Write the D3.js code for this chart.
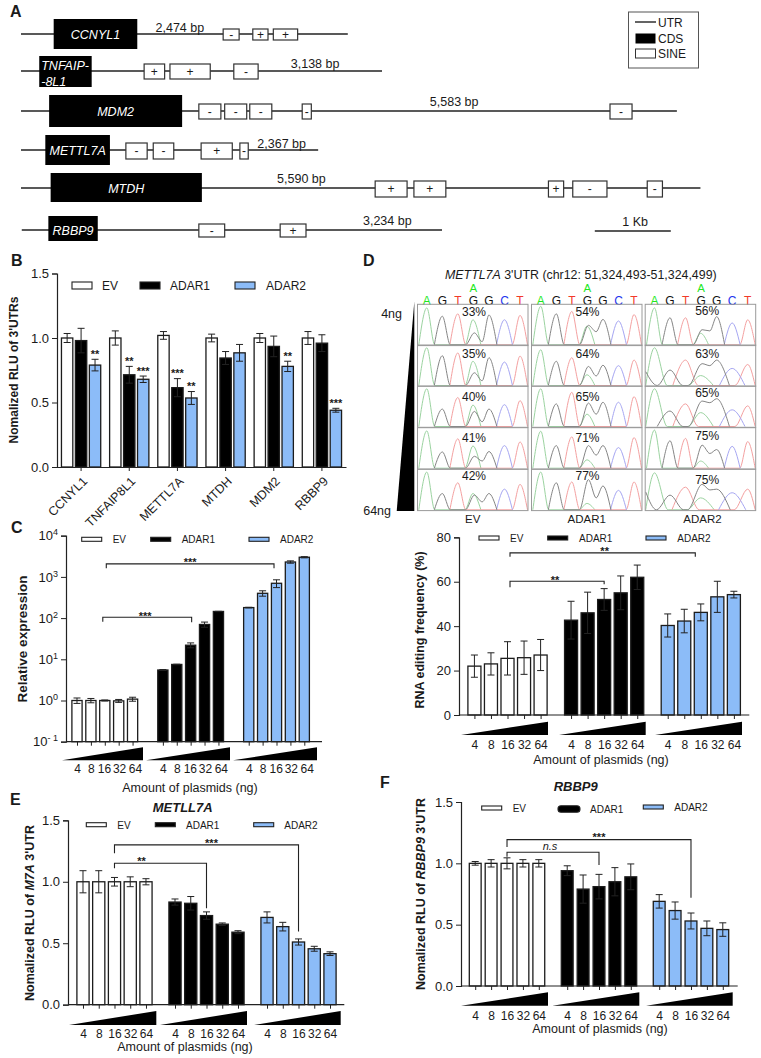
<!DOCTYPE html>
<html>
<head>
<meta charset="utf-8">
<script src="https://cdn.jsdelivr.net/npm/d3@7"></script>
<style>
    body { margin: 0; background: #fff; }
    text { font-family: "Liberation Sans", Arial, sans-serif; fill: #1a1a1a; }
</style>
</head>
<body>
<div id="figure"></div>
<script>
// panel A, everything in kb along the transcript
const geneNames = ['CCNYL1', 'TNFAIP8L1', 'MDM2', 'METTL7A', 'MTDH', 'RBBP9']
const geneLengths = ['2,474 bp', '3,138 bp', '5,583 bp', '2,367 bp', '5,590 bp', '3,234 bp']
const geneEnds = [4.30, 4.75, 8.63, 3.91, 8.94, 5.54]
const cdsSpans = [[0.43, 1.53], [0.24, 0.93], [0.37, 2.12], [0.32, 1.17], [0.39, 2.38], [0.36, 1.01]]
const sineSpans = [
    [[2.66, 2.87], [3.05, 3.25], [3.32, 3.64]],
    [[1.62, 1.89], [1.96, 2.49], [2.80, 3.12]],
    [[2.34, 2.63], [2.68, 2.97], [3.01, 3.30], [3.70, 3.82], [7.75, 8.04]],
    [[1.38, 1.66], [1.74, 2.01], [2.37, 2.78], [2.88, 2.99]],
    [[4.66, 5.08], [5.17, 5.59], [6.94, 7.14], [7.26, 7.71], [8.24, 8.44]],
    [[2.34, 2.68], [3.41, 3.75]],
]
const sineStrands = [
    ['-', '+', '+'],
    ['+', '+', '-'],
    ['-', '-', '-', '-', '-'],
    ['-', '-', '+', '-'],
    ['+', '+', '+', '-', '-'],
    ['-', '+'],
]

// panel B
const bGenes = ['CCNYL1', 'TNFAIP8L1', 'METTL7A', 'MTDH', 'MDM2', 'RBBP9']
const seriesNames = ['EV', 'ADAR1', 'ADAR2']
const bEv = [1.0, 1.0, 1.02, 1.0, 1.0, 1.0]
const bEvErr = [0.035, 0.055, 0.03, 0.03, 0.035, 0.05]
const bAdar1 = [0.98, 0.715, 0.615, 0.845, 0.935, 0.96]
const bAdar1Err = [0.095, 0.065, 0.07, 0.05, 0.08, 0.065]
const bAdar2 = [0.79, 0.68, 0.535, 0.885, 0.78, 0.44]
const bAdar2Err = [0.045, 0.025, 0.05, 0.065, 0.04, 0.015]
const bAdar1Sig = ['', '**', '***', '', '', '']
const bAdar2Sig = ['**', '***', '**', '', '**', '***']

// dose series, shared by C to F
const doses = [4, 8, 16, 32, 64]

const cEv = [1.0, 1.0, 1.0, 0.98, 1.08]
const cEvErr = [0.15, 0.12, 0.03, 0.08, 0.12]
const cAdar1 = [5.5, 7.5, 22, 70, 145]
const cAdar1Err = [0.15, 0.1, 3, 10, 1]
const cAdar2 = [180, 400, 700, 2300, 3000]
const cAdar2Err = [3, 60, 150, 150, 100]

const dEv = [22, 23, 25.5, 25.8, 27]
const dEvErr = [5, 5, 7.5, 7.5, 7]
const dAdar1 = [42.7, 46, 52, 55, 62]
const dAdar1Err = [8.5, 9.3, 4.9, 7.6, 5.5]
const dAdar2 = [40.3, 42.3, 46.2, 53.2, 54.2]
const dAdar2Err = [5.2, 5.3, 3.8, 7, 1.5]

const eEv = [1, 1, 1, 1, 1]
const eEvErr = [0.09, 0.09, 0.035, 0.04, 0.025]
const eAdar1 = [0.835, 0.825, 0.725, 0.655, 0.59]
const eAdar1Err = [0.025, 0.055, 0.03, 0.01, 0.012]
const eAdar2 = [0.71, 0.635, 0.51, 0.455, 0.415]
const eAdar2Err = [0.045, 0.035, 0.025, 0.02, 0.015]

const fEv = [1, 1, 1, 1, 1]
const fEvErr = [0.015, 0.03, 0.045, 0.03, 0.03]
const fAdar1 = [0.94, 0.79, 0.81, 0.85, 0.89]
const fAdar1Err = [0.04, 0.115, 0.1, 0.115, 0.105]
const fAdar2 = [0.69, 0.615, 0.53, 0.47, 0.46]
const fAdar2Err = [0.055, 0.07, 0.065, 0.06, 0.055]

// panel D chromatograms, peak heights read per row: A G T a(edited) g(edited) G C T + valley between the two G
const baseLetters = ['A', 'G', 'T', 'G', 'G', 'C', 'T']
const evPeaks = [
    [.93, .72, .78, .63, .30, .75, .63, .74, .08],
    [.95, .75, .82, .61, .32, .70, .59, .74, .12],
    [.95, .44, .73, .54, .38, .44, .55, .65, .12],
    [.94, .41, .74, .56, .30, .42, .57, .66, .18],
    [.95, .41, .68, .41, .37, .41, .52, .64, .20],
]
const adar1Peaks = [
    [.97, .78, .84, .47, .49, .64, .60, .76, .33],
    [.90, .61, .70, .27, .48, .51, .50, .64, .24],
    [.95, .57, .86, .31, .59, .61, .61, .75, .31],
    [.93, .57, .79, .21, .57, .57, .52, .77, .33],
    [.95, .68, .70, .16, .76, .60, .49, .70, .30],
]
const adar2Peaks = [
    [.93, .68, .68, .29, .38, .71, .55, .63, .35],
    [.95, .39, .64, .25, .55, .64, .43, .53, .50],
    [.95, .39, .57, .35, .64, .70, .42, .52, .60],
    [.96, .69, .75, .18, .58, .47, .55, .67, .37],
    [.93, .37, .57, .30, .64, .52, .43, .52, .50],
]
const evPct = [33, 35, 40, 41, 42]
const adar1Pct = [54, 64, 65, 71, 77]
const adar2Pct = [56, 63, 65, 75, 75]
const adar2Spread = [1, 1.6, 1.6, 1, 1.7]
const adar2GrayStart = [0, .35, 0, 0, .45]

const colors = { EV: '#fff', ADAR1: '#000', ADAR2: '#8cbcf8' }
const ink = '#222'

const svg = d3.select('#figure')
.append('svg')
    .attr('width', 761)
    .attr('height', 1058)

const addText = (parent, x, y, str, size, opts = {}) => {
    return parent.append('text')
        .attr('x', x)
        .attr('y', y)
        .attr('font-size', size)
        .attr('text-anchor', opts.anchor || 'start')
        .attr('font-weight', opts.bold ? 'bold' : 'normal')
        .attr('font-style', opts.italic ? 'italic' : 'normal')
        .style('fill', opts.fill || null)
        .text(str)
}

const addLine = (parent, x1, y1, x2, y2, width = 1.2, color = ink) => {
    return parent.append('line')
        .attr('x1', x1).attr('y1', y1)
        .attr('x2', x2).attr('y2', y2)
        .attr('stroke', color)
        .attr('stroke-width', width)
}

const panelLetter = (letter, x, y) => addText(svg, x, y, letter, 16, { bold: true })

const drawGeneMap = () => {
    const g = svg.append('g')
    const xKb = d3.scaleLinear().domain([0, 1]).range([21, 97])

    const rowY = [34, 71, 111, 150, 188, 230]
    const cdsBox = [[19, 49], [56, 87], [95, 127], [135, 165], [173, 202], [216, 241]]
    const sineBox = [[29, 40], [64, 79], [104, 119], [143, 159], [181, 197], [224, 237]]
    const lengthX = [2.09, 3.87, 5.70, 3.43, 3.69, 4.82]
    const lengthY = [32, 68, 106, 148, 183, 225]

    geneNames.forEach((name, i) => {
        addLine(g, xKb(i === 5 ? 0.01 : 0), rowY[i], xKb(geneEnds[i]), rowY[i], 1.4, '#222')

        g.append('rect')
            .attr('x', xKb(cdsSpans[i][0]))
            .attr('y', cdsBox[i][0])
            .attr('width', xKb(cdsSpans[i][1]) - xKb(cdsSpans[i][0]))
            .attr('height', cdsBox[i][1] - cdsBox[i][0])
            .attr('fill', '#000')

        const midCds = (xKb(cdsSpans[i][0]) + xKb(cdsSpans[i][1])) / 2
        if (name === 'TNFAIP8L1') {
            addText(g, xKb(cdsSpans[i][0]) + 2, 70, 'TNFAIP-', 12.5, { italic: true, fill: '#fff' })
            addText(g, xKb(cdsSpans[i][0]) + 2, 86, '-8L1', 12.5, { italic: true, fill: '#fff' })
        } else {
            addText(g, midCds, rowY[i] + 4.5, name, 12.5, { italic: true, fill: '#fff', anchor: 'middle' })
        }

        sineSpans[i].forEach((span, j) => {
            g.append('rect')
                .attr('x', xKb(span[0]))
                .attr('y', sineBox[i][0])
                .attr('width', xKb(span[1]) - xKb(span[0]))
                .attr('height', sineBox[i][1] - sineBox[i][0])
                .attr('fill', '#fff')
                .attr('stroke', '#333')
                .attr('stroke-width', 1.2)
            addText(g, (xKb(span[0]) + xKb(span[1])) / 2, (sineBox[i][0] + sineBox[i][1]) / 2 + 4, sineStrands[i][j], 12, { anchor: 'middle' })
        })

        addText(g, xKb(lengthX[i]), lengthY[i], geneLengths[i], 12.5, { anchor: 'middle' })
    })

    // scale bar is exactly 1 kb
    addLine(g, xKb(7.55), 231, xKb(8.55), 231, 1.4)
    addText(g, xKb(8.08), 226, '1 Kb', 12.5, { anchor: 'middle' })

    g.append('rect')
        .attr('x', 628.5).attr('y', 12)
        .attr('width', 70).attr('height', 56)
        .attr('fill', 'none')
        .attr('stroke', '#555')
    addLine(g, 635, 22, 656, 22, 1.4)
    g.append('rect').attr('x', 635.5).attr('y', 33.5).attr('width', 20).attr('height', 10).attr('fill', '#000')
    g.append('rect').attr('x', 635.5).attr('y', 49).attr('width', 20).attr('height', 9).attr('fill', '#fff').attr('stroke', '#333')
    addText(g, 658, 26.5, 'UTR', 12)
    addText(g, 658, 43, 'CDS', 12)
    addText(g, 658, 58, 'SINE', 12)
}

const drawLegend = (g, items) => {
    seriesNames.forEach((name, i) => {
        const it = items[i]
        g.append('rect')
            .attr('x', it.x).attr('y', it.y)
            .attr('width', it.w || 20).attr('height', it.h)
            .attr('rx', it.rx || 0)
            .attr('fill', colors[name])
            .attr('stroke', ink)
            .attr('stroke-width', 1.1)
        addText(g, it.tx, it.ty, name, it.size)
    })
}

const drawBars = (g, rows) => {
    // rows: { x, width, top, base, fill, errTop, errBottom }
    g.selectAll(null)
    .data(rows)
    .enter()
    .append('rect')
        .attr('x', (d) => d.x + 0.6)
        .attr('y', (d) => d.top)
        .attr('width', (d) => d.width - 1.2)
        .attr('height', (d) => d.base - d.top)
        .attr('fill', (d) => d.fill)
        .attr('stroke', '#1c1c1c')
        .attr('stroke-width', 1.3)

    rows.forEach((d) => {
        const cx = d.x + d.width / 2
        addLine(g, cx, d.errTop, cx, d.errBottom, 1)
        addLine(g, cx - 3.5, d.errTop, cx + 3.5, d.errTop, 1)
        addLine(g, cx - 3.5, d.errBottom, cx + 3.5, d.errBottom, 1)
    })
}

const drawPanelB = () => {
    const g = svg.append('g')
    const y = d3.scaleLinear().domain([0, 1.5]).range([467, 273.5])
    const x0 = d3.scaleBand().domain(bGenes).range([57, 346]).paddingInner(0.16).paddingOuter(0.08)
    const x1 = d3.scaleBand().domain(seriesNames).range([0, x0.bandwidth()]).paddingInner(0.1)

    const values = [bEv, bAdar1, bAdar2]
    const errors = [bEvErr, bAdar1Err, bAdar2Err]
    const rows = []
    seriesNames.forEach((name, s) => {
        bGenes.forEach((gene, i) => {
            rows.push({
                x: x0(gene) + x1(name),
                width: x1.bandwidth(),
                top: y(values[s][i]),
                base: y(0),
                fill: colors[name],
                errTop: y(values[s][i] + errors[s][i]),
                errBottom: y(values[s][i] - errors[s][i]),
            })
        })
    })
    drawBars(g, rows)

    const stars = [null, bAdar1Sig, bAdar2Sig]
    stars.forEach((list, s) => {
        if (!list) return
        list.forEach((str, i) => {
            if (!str) return
            const cx = x0(bGenes[i]) + x1(seriesNames[s]) + x1.bandwidth() / 2
            addText(g, cx, y(values[s][i] + errors[s][i]) - 1.5, str, 11, { anchor: 'middle', bold: true })
        })
    })

    const yAxis = d3.axisLeft(y).tickValues([0, 0.5, 1, 1.5]).tickFormat(d3.format('.1f')).tickSize(5)
    const yG = g.append('g').attr('transform', 'translate(57,0)').call(yAxis)
    yG.selectAll('text').attr('font-size', 13)

    const xAxis = d3.axisBottom(x0).tickSize(4).tickSizeOuter(0)
    const xG = g.append('g').attr('transform', 'translate(0,467)').call(xAxis)
    xG.selectAll('text')
        .attr('font-size', 12.5)
        .attr('text-anchor', 'end')
        .attr('y', 0)
        .attr('dy', 0)
        .attr('transform', 'translate(7,15) rotate(-45)')
    g.selectAll('.domain').attr('stroke', ink).attr('stroke-width', 1.2)
    g.selectAll('.tick line').attr('stroke', ink)

    addText(g, 0, 0, "Nomalized RLU of 3'UTRs", 12, { anchor: 'middle', bold: true })
        .attr('transform', 'translate(18,370) rotate(-90)')

    drawLegend(g, [
        { x: 72, y: 282, h: 7, tx: 102, ty: 290, size: 12 },
        { x: 140, y: 282, h: 7, tx: 170, ty: 290, size: 12 },
        { x: 235, y: 282, h: 7, tx: 266, ty: 290, size: 12 },
    ])
}

const drawDosePanel = (cfg) => {
    const g = svg.append('g')
    const y = cfg.yScale
    const x0 = d3.scaleBand().domain(seriesNames).range(cfg.barRange).paddingInner(cfg.groupGap)
    const x1 = d3.scaleBand().domain(doses).range([0, x0.bandwidth()]).paddingInner(cfg.barGap)
    const centre = (name, dose) => x0(name) + x1(dose) + x1.bandwidth() / 2

    const rows = []
    seriesNames.forEach((name, s) => {
        doses.forEach((dose, i) => {
            const v = cfg.values[s][i]
            const e = cfg.errors[s][i]
            rows.push({
                x: x0(name) + x1(dose),
                width: x1.bandwidth(),
                top: y(v),
                base: y.range()[0],
                fill: colors[name],
                errTop: y(v + e),
                errBottom: y(v - e),
            })
        })
    })
    drawBars(g, rows)

    const yG = g.append('g').attr('transform', `translate(${cfg.axisX},0)`).call(cfg.yAxis(d3.axisLeft(y).tickSize(5)))
    yG.selectAll('text').attr('font-size', 13)
    if (cfg.decorateTicks) cfg.decorateTicks(yG)

    // x axis, one tick per bar, labels sit below the wedges
    const keys = seriesNames.flatMap((name) => doses.map((dose) => `${name}|${dose}`))
    const flatX = d3.scaleOrdinal()
        .domain(keys)
        .range(keys.map((k) => centre(k.split('|')[0], +k.split('|')[1])))
    const xG = g.append('g')
        .attr('transform', `translate(0,${y.range()[0]})`)
        .call(d3.axisBottom(flatX).tickSize(4).tickPadding(cfg.tickPad).tickFormat((k) => k.split('|')[1]))
    xG.select('.domain').remove()
    xG.selectAll('text')
        .attr('font-size', 12)
        .attr('dx', (k) => cfg.labelNudge ? cfg.labelNudge[doses.indexOf(+k.split('|')[1])] : 0)
    addLine(g, cfg.axisX, y.range()[0], cfg.axisEnd, y.range()[0], 1.2)
    g.selectAll('.domain').attr('stroke', ink).attr('stroke-width', 1.2)
    g.selectAll('.tick line').attr('stroke', ink)

    cfg.wedges.forEach((w) => {
        g.append('path')
            .attr('d', `M${w[0]},${cfg.wedgeY[1]}L${w[1]},${cfg.wedgeY[0]}L${w[1]},${cfg.wedgeY[1]}Z`)
            .attr('fill', '#000')
    })

    addText(g, cfg.xTitle[0], cfg.xTitle[1], 'Amount of plasmids (ng)', 12.5, { anchor: 'middle' })

    const yTitle = g.append('text')
        .attr('font-size', cfg.yTitleSize)
        .attr('font-weight', 'bold')
        .attr('text-anchor', 'middle')
        .attr('letter-spacing', cfg.yTitleSpacing || 0)
        .attr('transform', `translate(${cfg.yTitlePos[0]},${cfg.yTitlePos[1]}) rotate(-90)`)
    cfg.yTitle.forEach((part) => {
        yTitle.append('tspan')
            .attr('font-style', part[1] ? 'italic' : 'normal')
            .text(part[0])
    })

    if (cfg.title) addText(g, cfg.title[1], cfg.title[2], cfg.title[0], 13, { anchor: 'middle', bold: true, italic: true })

    cfg.brackets.forEach((b) => {
        const xa = centre(b.from[0], b.from[1]) + (b.dx ? b.dx[0] : 0)
        const xb = centre(b.to[0], b.to[1]) + (b.dx ? b.dx[1] : 0)
        const yb = y(b.level)
        g.append('path')
            .attr('d', `M${xa},${yb + b.drop[0]}L${xa},${yb}L${xb},${yb}L${xb},${yb + b.drop[1]}`)
            .attr('fill', 'none')
            .attr('stroke', ink)
            .attr('stroke-width', 1.1)
        const label = addText(g, (xa + xb) / 2 + (b.shift || 0), yb + (b.lift || 3), b.label, 11, { anchor: 'middle', bold: b.label !== 'n.s', italic: b.label === 'n.s' })
        if (b.label === 'n.s') label.attr('y', yb - 2.5)
    })

    drawLegend(g, cfg.legend)
}

const drawChromatograms = () => {
    const g = svg.append('g')
    const colLeft = [417.5, 531.5, 645.2]
    const colWidth = 110.5
    const rowTops = [304.3, 345, 386, 427.7, 469.3]
    const rowHeight = 41.3
    const pctNudge = [
        [7.3, 9, 11, 10, 6.3],
        [7.3, 9, 11, 10, 6.3],
        [6.7, 8.3, 7, 8.3, 10.7],
    ]
    const pctX = [56.5, 56, 62]
    const peaks = [evPeaks, adar1Peaks, adar2Peaks]
    const pcts = [evPct, adar1Pct, adar2Pct]
    const colNames = ['EV', 'ADAR1', 'ADAR2']
    const baseX = d3.scalePoint().domain(d3.range(7)).range([9.3, 102.5])
    const traceColors = { green: '#9bd3a0', black: '#858585', red: '#f4a0a0', blue: '#a6a6f2' }
    const letterColors = { A: '#1fe81f', G: '#111', T: '#f23a2a', C: '#2233ee' }

    const title = addText(g, 445, 278.5, '', 12.4)
    title.append('tspan').attr('font-style', 'italic').text('METTL7A')
    title.append('tspan').text(" 3'UTR (chr12: 51,324,493-51,324,499)")

    g.append('path').attr('d', 'M414.3,301.7L414.3,511L396.7,511Z').attr('fill', '#000')
    addText(g, 402, 317.5, '4ng', 12.5, { anchor: 'end' })
    addText(g, 391, 514.5, '64ng', 12.5, { anchor: 'end' })

    colLeft.forEach((left, c) => {
        baseLetters.forEach((letter, i) => {
            addText(g, left + baseX(i), 304.5, letter, 12, { anchor: 'middle' }).style('fill', letterColors[letter])
        })
        addText(g, left + baseX(3), 291.5, 'A', 11.5, { anchor: 'middle' }).style('fill', letterColors.A)
        addText(g, left + colWidth / 2 + (c === 2 ? 2 : 0), 522.5, colNames[c], 11.5, { anchor: 'middle' })

        rowTops.forEach((top, r) => {
            const h = peaks[c][r]
            const spread = c === 2 ? adar2Spread[r] : 1
            const hw = 8 * spread
            const yCell = d3.scaleLinear().domain([0, 1]).range([top + rowHeight - 0.8, top + 0.8])
            const xCell = (v) => Math.max(left + 0.5, Math.min(left + colWidth - 0.5, left + v))
            const peak = (pos, height) => [[baseX(pos) - hw, 0], [baseX(pos), height], [baseX(pos) + hw, 0]]
            const line = d3.line()
                .x((d) => xCell(d[0]))
                .y((d) => yCell(d[1]))
                .curve(d3.curveMonotoneX)
            const grayStart = c === 2 ? adar2GrayStart[r] : 0

            const traces = [
                ['green', [...peak(0, h[0]), ...peak(3, h[3]).map((d) => [d[0] - 0.5, d[1]])]],
                ['red', [...peak(2, h[2]), ...peak(6, h[7])]],
                ['blue', peak(5, h[6])],
                ['black', [
                    ...(grayStart ? [[0, grayStart]] : []),
                    ...peak(1, h[1]),
                    [baseX(3) - hw, 0],
                    [baseX(3) + 1, h[4]],
                    [(baseX(3) + baseX(4)) / 2 + 1, h[8]],
                    [baseX(4), h[5]],
                    [baseX(4) + hw, 0],
                ]],
            ]
            traces.forEach((t) => {
                g.append('path')
                    .attr('d', line(t[1]))
                    .attr('fill', 'none')
                    .attr('stroke', traceColors[t[0]])
                    .attr('stroke-width', 1)
            })

            g.append('rect')
                .attr('x', left).attr('y', top)
                .attr('width', colWidth).attr('height', rowHeight)
                .attr('fill', 'none')
                .attr('stroke', '#9a9a9a')
                .attr('stroke-width', 1)

            addText(g, left + pctX[c], top + pctNudge[c][r] + 4.3, `${pcts[c][r]}%`, 12, { anchor: 'middle' })
        })
    })
}

const linearAxis = (ticks, fmt) => (axis) => axis.tickValues(ticks).tickFormat(fmt)

drawGeneMap()
drawPanelB()

// C
drawDosePanel({
    yScale: d3.scaleLog().domain([0.1, 10000]).range([741.7, 535.7]),
    values: [cEv, cAdar1, cAdar2],
    errors: [cEvErr, cAdar1Err, cAdar2Err],
    axisX: 66,
    axisEnd: 322,
    barRange: [71.3, 310],
    groupGap: 0.22,
    barGap: 0.18,
    tickPad: 19,
    labelNudge: [0, 0, -0.8, 0.4, 2.4],
    yAxis: linearAxis([0.1, 1, 10, 100, 1000, 10000], () => '10'),
    decorateTicks: (yG) => {
        yG.selectAll('.tick text').each(function (d) {
            d3.select(this).append('tspan')
                .attr('dy', -5)
                .attr('font-size', 9)
                .text(Math.round(Math.log10(d)) < 0 ? '- 1' : Math.round(Math.log10(d)))
        })
    },
    wedges: [[62, 143], [146, 230], [233, 317]],
    wedgeY: [747.3, 760.3],
    xTitle: [190, 792],
    yTitle: [['Relative expression', false]],
    yTitleSize: 13.5,
    yTitlePos: [27, 639],
    brackets: [
        { from: ['EV', 16], to: ['ADAR2', 16], level: 2070, drop: [4.4, 4.4], dx: [1.5, -2.5], label: '***', lift: 2 },
        { from: ['EV', 16], to: ['ADAR1', 16], level: 105, drop: [4.5, 5], dx: [-2, 1], label: '***', lift: 0, shift: -2 },
    ],
    legend: [
        { x: 81.7, y: 537.3, h: 4, tx: 112.7, ty: 543.3, size: 10 },
        { x: 150.7, y: 537.3, h: 4, tx: 181.7, ty: 543.3, size: 10 },
        { x: 249, y: 537.3, h: 4, tx: 280, ty: 543.3, size: 10 },
    ],
})

drawChromatograms()

// D lower
drawDosePanel({
    yScale: d3.scaleLinear().domain([0, 80]).range([715, 537.3]),
    values: [dEv, dAdar1, dAdar2],
    errors: [dEvErr, dAdar1Err, dAdar2Err],
    axisX: 459,
    axisEnd: 749.3,
    barRange: [467.3, 741],
    groupGap: 0.168,
    barGap: 0.14,
    tickPad: 21,
    yAxis: linearAxis([0, 20, 40, 60, 80], d3.format('d')),
    wedges: [[461, 548], [559, 645.7], [655, 742]],
    wedgeY: [721.7, 735],
    xTitle: [601, 763.5],
    yTitle: [['RNA editing frequency (%)', false]],
    yTitleSize: 12.5,
    yTitlePos: [424, 630],
    brackets: [
        { from: ['EV', 16], to: ['ADAR2', 16], level: 73, drop: [4, 4], dx: [2.5, -5.5], label: '**', lift: 2, shift: 2 },
        { from: ['EV', 16], to: ['ADAR1', 16], level: 60.2, drop: [6, 3], dx: [2.5, 0], label: '**', lift: 3, shift: -2 },
    ],
    legend: [
        { x: 479, y: 536, h: 4, tx: 510, ty: 541.5, size: 10 },
        { x: 547.7, y: 536, h: 4, tx: 579, ty: 541.5, size: 10 },
        { x: 646, y: 536, h: 4, tx: 677.3, ty: 541.5, size: 10 },
    ],
})

// E
drawDosePanel({
    yScale: d3.scaleLinear().domain([0, 1.5]).range([1004.7, 820.3]),
    values: [eEv, eAdar1, eAdar2],
    errors: [eEvErr, eAdar1Err, eAdar2Err],
    axisX: 68,
    axisEnd: 344.3,
    barRange: [76.3, 336.7],
    groupGap: 0.17,
    barGap: 0.15,
    tickPad: 21,
    yAxis: linearAxis([0, 0.5, 1, 1.5], d3.format('.1f')),
    wedges: [[69, 156.3], [160, 247], [254, 340.7]],
    wedgeY: [1011, 1025],
    xTitle: [185, 1050.5],
    title: ['METLL7A', 182.7, 811.5],
    yTitle: [['Nomalized RLU of ', false], ['M7A', true], [" 3'UTR", false]],
    yTitleSize: 12.5,
    yTitlePos: [33.5, 913],
    brackets: [
        { from: ['EV', 16], to: ['ADAR2', 16], level: 1.3, drop: [8.3, 86.7], label: '***', lift: 2, shift: 5 },
        { from: ['EV', 16], to: ['ADAR1', 16], level: 1.151, drop: [5, 45], label: '**', lift: 2, shift: -19 },
    ],
    legend: [
        { x: 86.3, y: 822.7, h: 4, tx: 117.3, ty: 828.5, size: 10 },
        { x: 155.3, y: 822.7, h: 4, tx: 186, ty: 828.5, size: 10 },
        { x: 253.7, y: 822.7, h: 4, tx: 284.3, ty: 828.5, size: 10 },
    ],
})

// F
drawDosePanel({
    yScale: d3.scaleLinear().domain([0, 1.5]).range([986, 802]),
    values: [fEv, fAdar1, fAdar2],
    errors: [fEvErr, fAdar1Err, fAdar2Err],
    axisX: 461,
    axisEnd: 737.7,
    barRange: [468.7, 729.3],
    groupGap: 0.167,
    barGap: 0.18,
    tickPad: 21,
    yAxis: linearAxis([0, 0.5, 1, 1.5], d3.format('.1f')),
    wedges: [[461, 548], [552.3, 639.3], [646, 732.7]],
    wedgeY: [992.3, 1005.7],
    xTitle: [600, 1033],
    title: ['RBBP9', 575.7, 791],
    yTitle: [['Nomalized RLU of ', false], ['RBBP9', true], [" 3'UTR", false]],
    yTitleSize: 12.5,
    yTitlePos: [425, 894],
    brackets: [
        { from: ['EV', 16], to: ['ADAR2', 16], level: 1.193, drop: [7.3, 58], label: '***', lift: 1, shift: 0 },
        { from: ['EV', 16], to: ['ADAR1', 16], level: 1.09, drop: [4.4, 12.7], label: 'n.s', shift: -3 },
    ],
    legend: [
        { x: 481.7, y: 806, h: 4, tx: 512.7, ty: 811.5, size: 10 },
        { x: 558, y: 805.7, w: 22, h: 6.6, rx: 3, tx: 590, ty: 812.5, size: 10 },
        { x: 643.3, y: 805, h: 4, tx: 674.3, ty: 810.5, size: 10 },
    ],
})

panelLetter('A', 10, 17)
panelLetter('B', 11, 266)
panelLetter('C', 11, 533)
panelLetter('D', 363, 266)
panelLetter('E', 10, 805)
panelLetter('F', 380, 788)
</script>
</body>
</html>
